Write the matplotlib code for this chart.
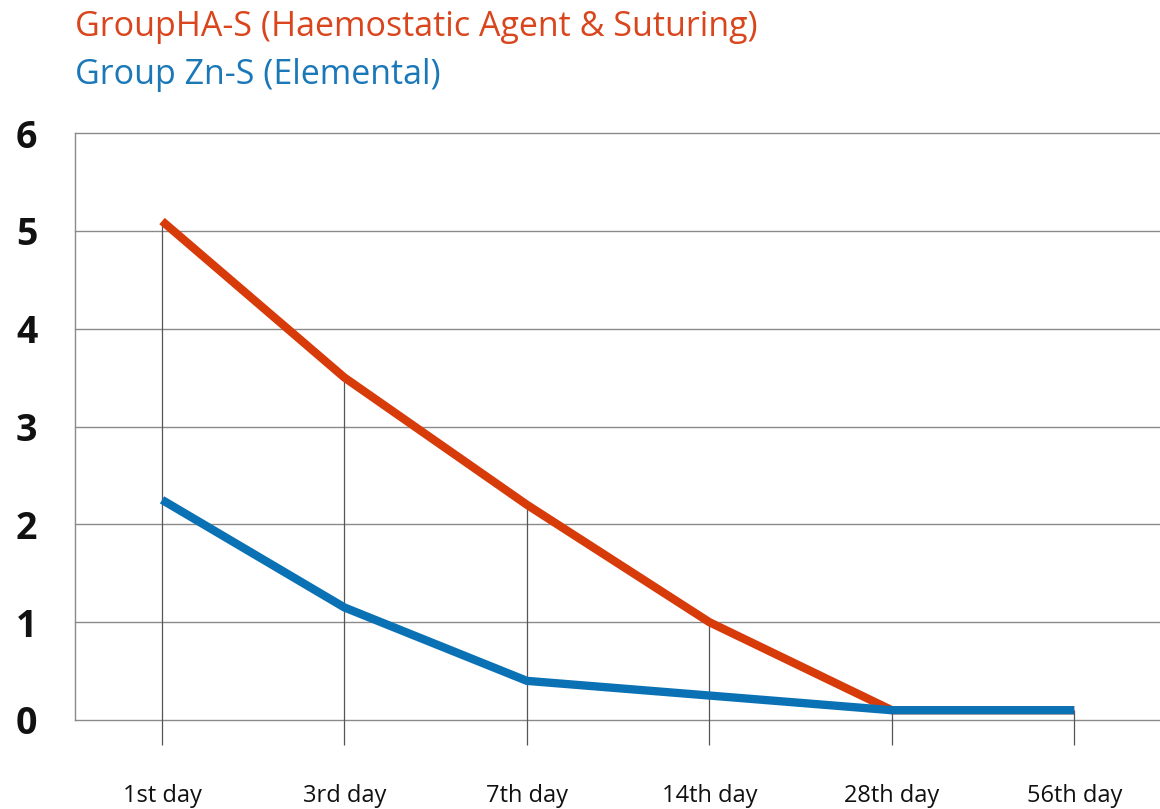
import matplotlib
matplotlib.use("Agg")
import matplotlib.pyplot as plt

days = ["1st day", "3rd day", "7th day", "14th day", "28th day", "56th day"]
group_ha = [5.1, 3.5, 2.2, 1.0, 0.1, 0.1]
group_zn = [2.25, 1.15, 0.4, 0.25, 0.1, 0.1]
series_names = ["GroupHA-S (Haemostatic Agent & Suturing)", "Group Zn-S (Elemental)"]

red = "#D83B0A"
blue = "#0A72B4"

plt.rcParams['font.family'] = ['Open Sans', 'DejaVu Sans']

fig = plt.figure(figsize=(11.6, 8.09), dpi=100)
ax = fig.add_axes([75 / 1160, 89 / 809, 1 - 75 / 1160, 587 / 809])

x = list(range(len(days)))

# horizontal grid lines
for v in range(0, 7):
    ax.axhline(v, color="#8a8a8a", lw=1.0, zorder=1, clip_on=False)

# drop lines from the top of each category to below the axis
tops = [max(a, b) for a, b in zip(group_ha, group_zn)]
ax.vlines(x, -0.26, tops, color="#555555", lw=0.9, zorder=1, clip_on=False)

ax.plot(x, group_ha, color=red, lw=6, solid_capstyle="butt", zorder=3)
ax.plot(x, group_zn, color=blue, lw=6, solid_capstyle="butt", zorder=4)

ax.set_xlim(-0.477, 5.47)
ax.set_ylim(0, 6)
for s in ["top", "right", "bottom"]:
    ax.spines[s].set_visible(False)
ax.spines["left"].set_color("#8a8a8a")
ax.spines["left"].set_linewidth(1.0)

ax.set_xticks(x)
ax.set_xticklabels(days, fontsize=17, color="#111111")
ax.tick_params(axis="x", length=0, pad=46)
ax.set_yticks(range(0, 7))
ax.set_yticklabels([str(v) for v in range(0, 7)], fontsize=27, fontweight="bold", color="#111111")
ax.tick_params(axis="y", length=0, pad=27)

fig.text(75 / 1160, 1 - 27 / 809, series_names[0], color="#D9451C", fontsize=24.5, va="center", ha="left")
fig.text(75 / 1160, 1 - 75 / 809, series_names[1], color="#1B78B8", fontsize=24.5, va="center", ha="left")

fig.savefig("out.png", dpi=100)
